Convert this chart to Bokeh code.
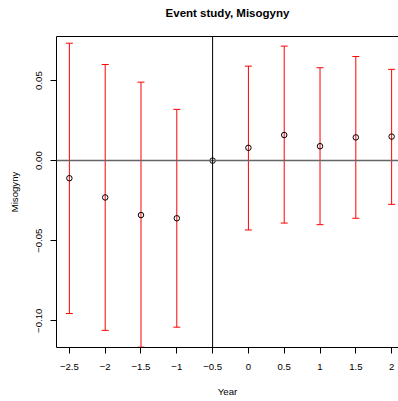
from bokeh.plotting import figure
from bokeh.models import (ColumnDataSource, Whisker, TeeHead, Span, LinearAxis,
                          FixedTicker, Range1d)
from bokeh.embed import file_html
from bokeh.resources import INLINE

# Event-study coefficients relative to the reference period (-0.5)
years = [-2.5, -2, -1.5, -1, -0.5, 0, 0.5, 1, 1.5, 2]
estimate = [-0.011, -0.023, -0.034, -0.036, 0.0, 0.008, 0.016, 0.009, 0.0145, 0.015]
ci_upper = [0.0733, 0.060, 0.049, 0.032, 0.0, 0.059, 0.0715, 0.058, 0.065, 0.057]
ci_lower = [-0.0955, -0.106, -0.1165, -0.104, 0.0, -0.0433, -0.039, -0.040, -0.036, -0.0273]

x_ticks = [-2.5, -2, -1.5, -1, -0.5, 0, 0.5, 1, 1.5, 2]
x_tick_labels = ["\u22122.5", "\u22122", "\u22121.5", "\u22121", "\u22120.5",
                 "0", "0.5", "1", "1.5", "2"]
y_ticks = [-0.10, -0.05, 0.0, 0.05]
y_tick_labels = ["\u22120.10", "\u22120.05", "0.00", "0.05"]

FONT = "Liberation Sans"
FS = "9.6px"

p = figure(width=398, height=401, output_backend="svg", toolbar_location=None,
           x_range=Range1d(-2.68, 2.096), y_range=Range1d(-0.1167, 0.0775),
           min_border_left=56, min_border_right=0, min_border_top=36,
           min_border_bottom=54, x_axis_label="Year", y_axis_label="Misogyny")
p.outline_line_color = None
p.grid.visible = False
p.background_fill_color = "white"
p.border_fill_color = "white"

xa = p.xaxis[0]
xa.ticker = FixedTicker(ticks=x_ticks)
xa.major_label_overrides = {t: l for t, l in zip(x_ticks, x_tick_labels)}
ya = p.yaxis[0]
ya.ticker = FixedTicker(ticks=y_ticks)
ya.major_label_overrides = {t: l for t, l in zip(y_ticks, y_tick_labels)}
ya.major_label_orientation = "vertical"

for ax in (xa, ya):
    ax.minor_tick_line_color = None
    ax.major_tick_in = 0
    ax.major_tick_out = 6
    ax.major_tick_line_color = "black"
    ax.axis_line_color = "black"
    ax.major_label_text_font = FONT
    ax.major_label_text_font_size = FS
    ax.major_label_text_color = "black"
    ax.axis_label_text_font = FONT
    ax.axis_label_text_font_size = FS
    ax.axis_label_text_font_style = "normal"
    ax.axis_label_text_color = "black"
xa.major_label_standoff = 10
xa.axis_label_standoff = 13
ya.major_label_standoff = 8
ya.axis_label_standoff = 14

# top edge of the plot box, carrying the chart title
top = LinearAxis(ticker=FixedTicker(ticks=[]), major_tick_line_color=None,
                 major_tick_out=0, major_tick_in=0, major_label_standoff=0,
                 minor_tick_line_color=None, minor_tick_out=0, minor_tick_in=0,
                 major_label_text_color=None, major_label_text_font_size="0px",
                 axis_line_color="black",
                 axis_label="Event study, Misogyny", axis_label_standoff=18,
                 axis_label_text_font=FONT, axis_label_text_font_size="11.5px",
                 axis_label_text_font_style="bold", axis_label_text_color="black")
p.add_layout(top, "above")

# reference lines
p.add_layout(Span(location=0, dimension="width", line_color="#666666", line_width=1.5))
p.add_layout(Span(location=-0.5, dimension="height", line_color="black", line_width=1))

# confidence intervals (the reference period has none)
keep = [i for i in range(len(years)) if ci_upper[i] != ci_lower[i]]
ci_src = ColumnDataSource(dict(x=[years[i] for i in keep],
                               lo=[ci_lower[i] for i in keep],
                               hi=[ci_upper[i] for i in keep]))
p.add_layout(Whisker(source=ci_src, base="x", lower="lo", upper="hi",
                     line_color="red", line_width=1,
                     lower_head=TeeHead(size=7, line_color="red", line_width=1),
                     upper_head=TeeHead(size=7, line_color="red", line_width=1)))

pt_src = ColumnDataSource(dict(x=years, y=estimate))
p.scatter("x", "y", source=pt_src, marker="circle", size=5.5, fill_color=None,
          line_color="black", line_width=1)

open("out.html", "w").write(file_html(p, INLINE))
